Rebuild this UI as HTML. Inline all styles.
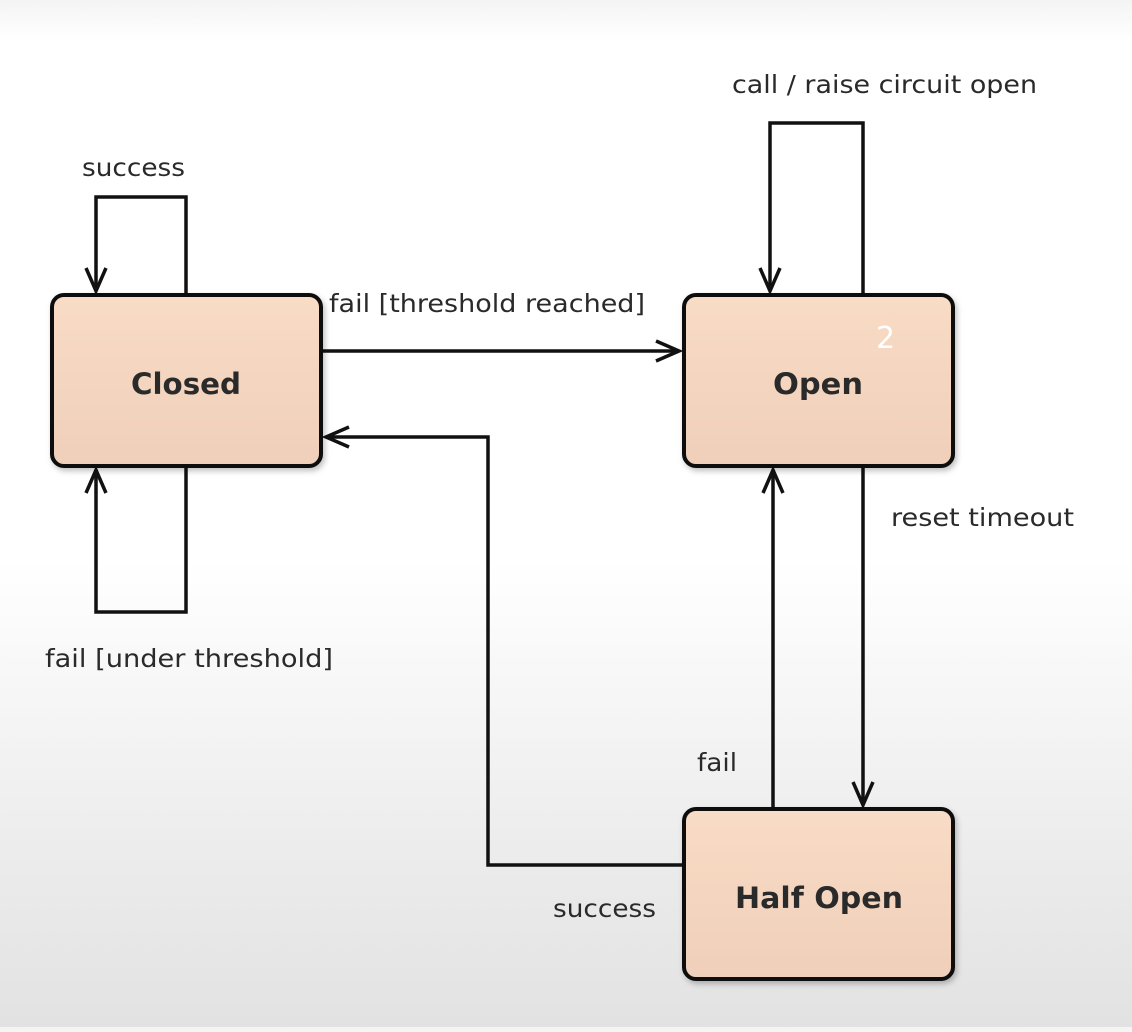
<!DOCTYPE html>
<html><head><style>
html,body{margin:0;padding:0;}
body{width:1132px;height:1027px;overflow:hidden;background:linear-gradient(#f4f4f4 0px,#fff 40px,#fff 560px,#ececec 850px,#e2e2e2 1027px);}
text{font-family:"DejaVu Sans","Liberation Sans",sans-serif;fill:#2a2a2a;}
</style></head><body>
<svg width="1132" height="1027" viewBox="0 0 1132 1027" xmlns="http://www.w3.org/2000/svg">
<defs>
<linearGradient id="bx" x1="0" y1="0" x2="0" y2="1"><stop offset="0" stop-color="#f9dcc5"/><stop offset="1" stop-color="#efcfba"/></linearGradient>
<filter id="sh" x="-10%" y="-10%" width="130%" height="130%"><feDropShadow dx="2" dy="3" stdDeviation="3" flood-color="#000" flood-opacity="0.25"/></filter>
</defs>
<g fill="none" stroke="#111" stroke-width="3.5" stroke-linejoin="miter">
<!-- success loop -->
<polyline points="186,295 186,197 96,197 96,291"/>
<polyline points="86,268 96,291 106,268"/>
<!-- under threshold loop -->
<polyline points="186,466 186,612 96,612 96,470"/>
<polyline points="86,493 96,470 106,493"/>
<!-- open loop -->
<polyline points="863,295 863,123 770,123 770,291"/>
<polyline points="760,268 770,291 780,268"/>
<!-- closed -> open -->
<line x1="321" y1="351" x2="679" y2="351"/>
<polyline points="656,341 679,351 656,361"/>
<!-- half open -> closed -->
<polyline points="684,865 488,865 488,437 326,437"/>
<polyline points="349,427 326,437 349,447"/>
<!-- half open fail -> open -->
<line x1="773" y1="809" x2="773" y2="470"/>
<polyline points="763,493 773,470 783,493"/>
<!-- reset timeout -->
<line x1="863" y1="466" x2="863" y2="805"/>
<polyline points="853,782 863,805 873,782"/>
</g>
<g filter="url(#sh)" fill="url(#bx)" stroke="#111" stroke-width="4">
<rect x="52" y="295" width="269" height="171" rx="12"/>
<rect x="684" y="295" width="269" height="171" rx="12"/>
<rect x="684" y="809" width="269" height="170" rx="12"/>
</g>
<g font-weight="bold" font-size="29" style="fill:#1a1a1a">
<text x="131" y="394" textLength="110" lengthAdjust="spacingAndGlyphs">Closed</text>
<text x="773" y="394" textLength="90" lengthAdjust="spacingAndGlyphs">Open</text>
<text x="735" y="908" textLength="168" lengthAdjust="spacingAndGlyphs">Half Open</text>
</g>
<text x="876" y="348" font-size="30" style="fill:#fff">2</text>
<g font-size="25">
<text x="82" y="176" textLength="103" lengthAdjust="spacingAndGlyphs">success</text>
<text x="732" y="93" textLength="305" lengthAdjust="spacingAndGlyphs">call / raise circuit open</text>
<text x="329" y="312" textLength="316" lengthAdjust="spacingAndGlyphs">fail [threshold reached]</text>
<text x="891" y="526" textLength="183" lengthAdjust="spacingAndGlyphs">reset timeout</text>
<text x="45" y="667" textLength="288" lengthAdjust="spacingAndGlyphs">fail [under threshold]</text>
<text x="697" y="771" textLength="40" lengthAdjust="spacingAndGlyphs">fail</text>
<text x="553" y="917" textLength="103" lengthAdjust="spacingAndGlyphs">success</text>
</g>
</svg>
</body></html>
